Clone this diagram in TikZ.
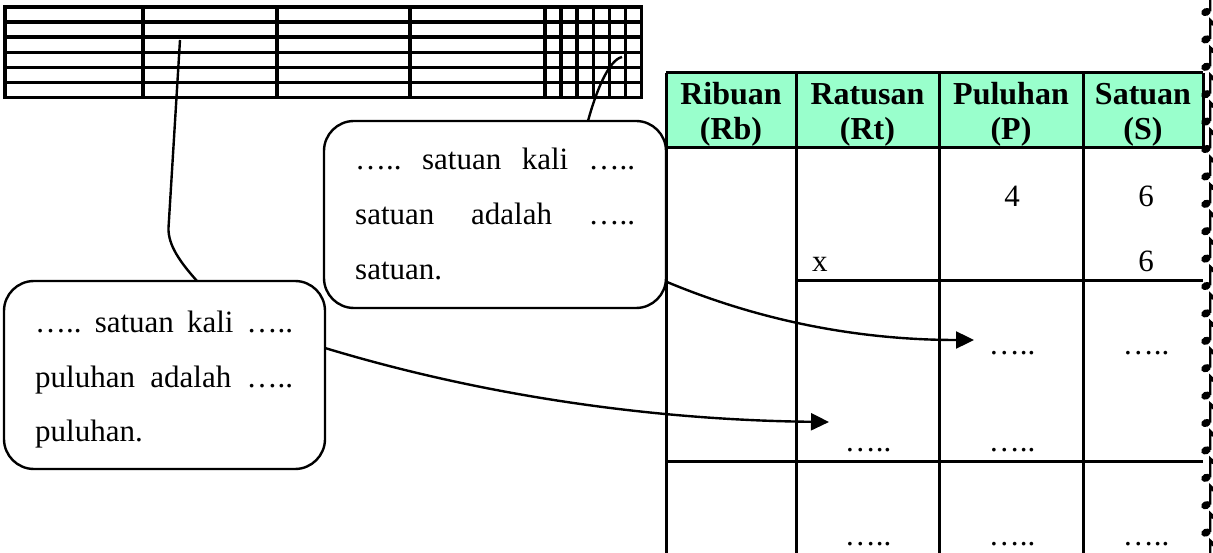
\documentclass[tikz,border=0pt]{standalone}
\usepackage{fontspec}
\setmainfont{Liberation Serif}
\usetikzlibrary{arrows.meta}
\definecolor{mint}{RGB}{153,255,204}
\begin{document}
\frenchspacing
\begin{tikzpicture}[x=1pt,y=-1pt,
  every node/.style={inner sep=0pt, font=\fontsize{31}{36}\selectfont},
  gridline/.style={line width=3.5pt, line cap=rect},
  tabline/.style={line width=3pt},
  callout/.style={draw, line width=2.4pt, rounded corners=30pt, fill=white},
  conn/.style={line width=2.4pt},
  arr/.style={line width=2.4pt, -{Triangle[length=18pt,width=17pt]}},
  hdr/.style={anchor=base, font=\bfseries\fontsize{32}{36}\selectfont},
  cell/.style={anchor=base}]
\useasboundingbox (0,0) rectangle (1213,553);

% top grid
\foreach \i in {0,...,6} \draw[gridline] (5,{7+15.1*\i}) -- (641.6,{7+15.1*\i});
\foreach \x in {5,143,277,410,545,561.1,577.2,593.3,609.4,625.5,641.6}
  \draw[gridline] (\x,7) -- (\x,97.6);

% table
\fill[mint] (666,73) rectangle (1203,148);
\foreach \x in {666,796,939,1083} \draw[tabline] (\x,73) -- (\x,553);
\draw[tabline] (1203,73) -- (1203,148);
\draw[tabline] (666,73) -- (1203,73);
\draw[tabline] (666,148) -- (1203,148);
\draw[tabline] (796,281) -- (1203,281);
\draw[tabline] (666,461) -- (1203,461);

\node[hdr] (h1a) at (731,105) {Ribuan};
\node[hdr] (h1b) at (731,140) {(Rb)};
\node[hdr] (h2a) at (867.5,105) {Ratusan};
\node[hdr] (h2b) at (867.5,140) {(Rt)};
\node[hdr] (h3a) at (1011,105) {Puluhan};
\node[hdr] (h3b) at (1011,140) {(P)};
\node[hdr] (h4a) at (1143,105) {Satuan};
\node[hdr] (h4b) at (1143,140) {(S)};

\node[cell] (p1) at (1012,207) {4};
\node[cell] (s1) at (1146,207) {6};
\node[cell, anchor=base west] (x1) at (812,272) {x};
\node[cell] (s2) at (1146,272) {6};
\node[cell] (p3) at (1012,355) {…..};
\node[cell] (s3) at (1146,355) {…..};
\node[cell] (r4) at (868,451) {…..};
\node[cell] (p4) at (1012,451) {…..};
\node[cell] (r5) at (868,545) {…..};
\node[cell] (p5) at (1012,545) {…..};
\node[cell] (s5) at (1146,545) {…..};

% note border
\foreach \k in {0,...,20} {
  \pgfmathsetmacro\yy{12+27.4*\k}
  \fill[rotate around={25:(1206,\yy)}] (1206,\yy) ellipse (5 and 3.9);
  \draw[line width=2.2pt] (1210.2,{\yy-0.5}) -- (1210.2,{\yy-19.5}) .. controls (1211.5,{\yy-19}) and (1213,{\yy-17}) .. (1213,{\yy-14});
}

% callouts
\node[callout, minimum width=342pt, minimum height=187pt] (cR) at (495,214.5) {};
\node[callout, minimum width=321pt, minimum height=188pt] (cL) at (164.5,375) {};

\node[anchor=base west] (r1) at (355,170) {\makebox[280pt][s]{….. satuan kali …..}};
\node[anchor=base west] (r2) at (355,225) {\makebox[280pt][s]{satuan adalah …..}};
\node[anchor=base west] (r3) at (355,280) {satuan.};
\node[anchor=base west] (l1) at (35,333) {\makebox[258pt][s]{….. satuan kali …..}};
\node[anchor=base west] (l2) at (35,387) {\makebox[258pt][s]{puluhan adalah …..}};
\node[anchor=base west] (l3) at (35,441) {puluhan.};

% connectors
\coordinate (gL) at (180,40);
\coordinate (bL) at (168.5,228);
\coordinate (tL) at (197,281);
\draw[conn] (gL) -- (bL) .. controls (168,245) and (180,262) .. (tL);
\coordinate (gR) at (622,57);
\coordinate (tR) at (588,121);
\draw[conn] (gR) .. controls (608,60) and (595,95) .. (tR);

\coordinate (a1s) at (667,282);
\coordinate (a1e) at (974,340);
\draw[arr] (a1s) .. controls (770,325) and (870,340) .. (a1e);
\coordinate (a2s) at (325,348);
\coordinate (a2e) at (829,422);
\draw[arr] (a2s) .. controls (480,395) and (650,420) .. (a2e);
\end{tikzpicture}
\end{document}
